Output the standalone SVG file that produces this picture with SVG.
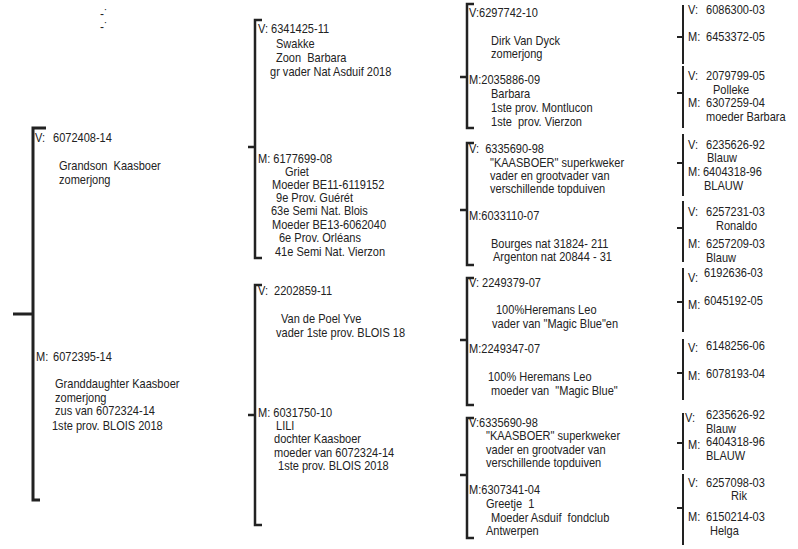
<svg xmlns="http://www.w3.org/2000/svg" width="798" height="549" viewBox="0 0 798 549">
<style>
text{font-family:"Liberation Sans",Arial,sans-serif;font-size:12px;fill:#222;white-space:pre;transform-box:fill-box;transform-origin:0 100%;transform:scaleX(0.92)}
.b{fill:none;stroke:#222;stroke-width:2.5}
.b1{fill:none;stroke:#222;stroke-width:3}
.b4{fill:none;stroke:#222;stroke-width:2}
</style>
<rect width="798" height="549" fill="#fff"/>
<g id="connectors">
<path class="b1" d="M46,128H33V500H40M13,314H33"/>
<path class="b" d="M262,20H255V258H262M248,147H255"/>
<path class="b" d="M262,285H255V525H262M248,415H255"/>
<path class="b" d="M474,4H467V128H474M460,77H467"/>
<path class="b" d="M474,143H467V265H474M460,210H467"/>
<path class="b" d="M474,278H467V405H474M460,340H467"/>
<path class="b" d="M474,418H467V538H474M460,475H467"/>
<path class="b4" d="M683,5V64M677,37H683"/>
<path class="b4" d="M683,66V128M677,93H683"/>
<path class="b4" d="M683,134V196M677,163H683"/>
<path class="b4" d="M683,201V262M677,228H683"/>
<path class="b4" d="M683,268V332M677,302H683"/>
<path class="b4" d="M683,339V400M677,373H683"/>
<path class="b4" d="M683,413V470M677,443H683"/>
<path class="b4" d="M683,474V545M677,508H683"/>
</g>
<g id="marks"><text x="100" y="18" style="font-size:13px">-˙</text><text x="100" y="31" style="font-size:13px">-˙</text></g>
<g id="n1-v"><text x="35" y="142">V:</text><text x="53" y="142">6072408-14</text><text x="59" y="170">Grandson  Kaasboer</text><text x="59" y="184">zomerjong</text></g>
<g id="n1-m"><text x="36" y="361">M:</text><text x="53" y="361">6072395-14</text><text x="55" y="388">Granddaughter Kaasboer</text><text x="55" y="402">zomerjong</text><text x="55" y="415">zus van 6072324-14</text><text x="52" y="430">1ste prov. BLOIS 2018</text></g>
<g id="n2-vv"><text x="258" y="33">V: 6341425-11</text><text x="276" y="48">Swakke</text><text x="276" y="62">Zoon  Barbara</text><text x="270" y="76">gr vader Nat Asduif 2018</text></g>
<g id="n2-vm"><text x="258" y="163">M: 6177699-08</text><text x="285" y="176">Griet</text><text x="272" y="189">Moeder BE11-6119152</text><text x="276" y="202">9e Prov. Guérét</text><text x="271" y="215">63e Semi Nat. Blois</text><text x="272" y="229">Moeder BE13-6062040</text><text x="279" y="242">6e Prov. Orléans</text><text x="275" y="256">41e Semi Nat. Vierzon</text></g>
<g id="n2-mv"><text x="258" y="295">V:</text><text x="274" y="295">2202859-11</text><text x="281" y="323">Van de Poel Yve</text><text x="276" y="337">vader 1ste prov. BLOIS 18</text></g>
<g id="n2-mm"><text x="258" y="417">M: 6031750-10</text><text x="276" y="430">LILI</text><text x="274" y="443">dochter Kaasboer</text><text x="274" y="457">moeder van 6072324-14</text><text x="278" y="470">1ste prov. BLOIS 2018</text></g>
<g id="n3-1"><text x="469" y="17">V:6297742-10</text><text x="491" y="45">Dirk Van Dyck</text><text x="491" y="58">zomerjong</text></g>
<g id="n3-2"><text x="469" y="84">M:2035886-09</text><text x="491" y="98">Barbara</text><text x="491" y="112">1ste prov. Montlucon</text><text x="491" y="126">1ste  prov. Vierzon</text></g>
<g id="n3-3"><text x="469" y="153">V:  6335690-98</text><text x="490" y="167">"KAASBOER" superkweker</text><text x="490" y="180">vader en grootvader van</text><text x="490" y="193">verschillende topduiven</text></g>
<g id="n3-4"><text x="469" y="220">M:6033110-07</text><text x="491" y="248">Bourges nat 31824- 211</text><text x="493" y="261">Argenton nat 20844 - 31</text></g>
<g id="n3-5"><text x="469" y="287">V: 2249379-07</text><text x="496" y="314">100%Heremans Leo</text><text x="492" y="328">vader van "Magic Blue"en</text></g>
<g id="n3-6"><text x="469" y="353">M:2249347-07</text><text x="488" y="381">100% Heremans Leo</text><text x="491" y="395">moeder van  "Magic Blue"</text></g>
<g id="n3-7"><text x="469" y="427">V:6335690-98</text><text x="486" y="440">"KAASBOER" superkweker</text><text x="486" y="454">vader en grootvader van</text><text x="486" y="467">verschillende topduiven</text></g>
<g id="n3-8"><text x="469" y="494">M:6307341-04</text><text x="486" y="508">Greetje  1</text><text x="491" y="522">Moeder Asduif  fondclub</text><text x="486" y="535">Antwerpen</text></g>
<g id="n4-1"><text x="688" y="14">V:</text><text x="706" y="14">6086300-03</text><text x="688" y="41">M:</text><text x="706" y="41">6453372-05</text></g>
<g id="n4-2"><text x="688" y="80">V:</text><text x="706" y="80">2079799-05</text><text x="713" y="94">Polleke</text><text x="688" y="107">M:</text><text x="706" y="107">6307259-04</text><text x="706" y="121">moeder Barbara</text></g>
<g id="n4-3"><text x="688" y="149">V:</text><text x="706" y="149">6235626-92</text><text x="707" y="162">Blauw</text><text x="688" y="176">M:</text><text x="703" y="176">6404318-96</text><text x="704" y="190">BLAUW</text></g>
<g id="n4-4"><text x="688" y="216">V:</text><text x="706" y="216">6257231-03</text><text x="716" y="230">Ronaldo</text><text x="688" y="248">M:</text><text x="706" y="248">6257209-03</text><text x="706" y="262">Blauw</text></g>
<g id="n4-5"><text x="688" y="282">V:</text><text x="704" y="277">6192636-03</text><text x="688" y="309">M:</text><text x="704" y="305">6045192-05</text></g>
<g id="n4-6"><text x="688" y="352">V:</text><text x="706" y="350">6148256-06</text><text x="688" y="380">M:</text><text x="706" y="378">6078193-04</text></g>
<g id="n4-7"><text x="685" y="422">V:</text><text x="706" y="419">6235626-92</text><text x="706" y="433">Blauw</text><text x="688" y="449">M:</text><text x="706" y="446">6404318-96</text><text x="706" y="460">BLAUW</text></g>
<g id="n4-8"><text x="688" y="487">V:</text><text x="706" y="487">6257098-03</text><text x="731" y="500">Rik</text><text x="688" y="521">M:</text><text x="706" y="521">6150214-03</text><text x="710" y="535">Helga</text></g>
</svg>
